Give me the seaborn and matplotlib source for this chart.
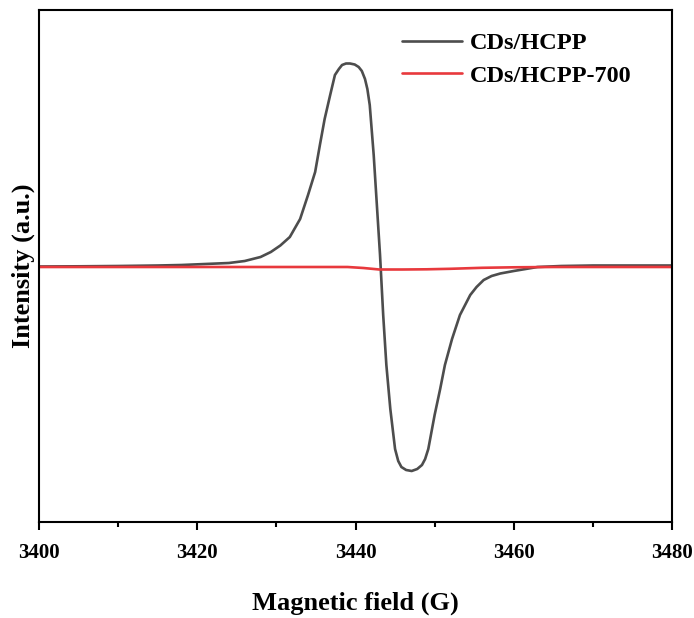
import numpy as np
import pandas as pd
import matplotlib
matplotlib.use("Agg")
import matplotlib.pyplot as plt
import seaborn as sns

# --- data ---
field_hcpp = [3400, 3405, 3410, 3415, 3418, 3421, 3424, 3426, 3428, 3429.3, 3430.5,
              3431.7, 3433.0, 3434.0, 3434.9, 3435.5, 3436.1, 3436.8, 3437.4, 3437.9,
              3438.3, 3438.8, 3439.3, 3439.9, 3440.4, 3440.8, 3441.2, 3441.5, 3441.8,
              3442.3, 3442.7, 3443.1, 3443.5, 3443.9, 3444.4, 3445.0, 3445.4, 3445.8,
              3446.4, 3447.1, 3447.8, 3448.4, 3448.8, 3449.2, 3450.0, 3450.7, 3451.3,
              3452.2, 3453.2, 3454.5, 3455.3, 3456.2, 3457.2, 3458.3, 3460.0, 3461.5,
              3463.0, 3466.0, 3470.0, 3475.0, 3480.0]
int_hcpp = [0.5, 0.7, 1.0, 1.5, 2.0, 3.0, 4.0, 6.0, 10.0, 15.0, 21.5,
            30.0, 48.0, 72.0, 95.0, 122.0, 148.0, 172.0, 192.0, 198.0,
            202.0, 203.5, 203.5, 202.5, 200.0, 196.0, 188.0, 178.0, 162.0,
            112.0, 62.0, 12.0, -48.0, -98.0, -142.0, -182.0, -194.0, -200.0,
            -203.0, -204.0, -202.0, -198.0, -192.0, -182.0, -148.0, -122.0, -98.0,
            -72.0, -48.0, -28.0, -20.0, -13.0, -9.0, -6.5, -4.0, -2.0,
            0.0, 1.0, 1.5, 1.5, 1.5]

field_700 = [3400, 3420, 3435, 3439, 3441, 3443, 3446, 3449, 3452, 3456, 3460, 3465, 3470, 3480]
int_700 = [0.0, 0.0, 0.0, 0.0, -1.0, -2.5, -2.5, -2.3, -1.8, -0.8, -0.3, 0.0, 0.0, 0.0]

labels = ["CDs/HCPP", "CDs/HCPP-700"]
colors = ["#4d4d4d", "#e8393d"]
x_ticks = [3400, 3420, 3440, 3460, 3480]

sns.set_theme(style="white")
plt.rcParams['font.family'] = ['Liberation Serif', 'DejaVu Serif']
plt.rcParams['font.weight'] = 'bold'
plt.rcParams['text.color'] = 'black'
plt.rcParams['axes.labelcolor'] = 'black'
plt.rcParams['xtick.color'] = 'black'
plt.rcParams['ytick.color'] = 'black'

fig = plt.figure(figsize=(6.94, 6.18), dpi=100)
ax = fig.add_axes([39/694, 1-522/618, (672-39)/694, (522-10)/618])

df1 = pd.DataFrame({"x": field_hcpp, "y": int_hcpp})
df2 = pd.DataFrame({"x": field_700, "y": int_700})
sns.lineplot(data=df1, x="x", y="y", ax=ax, color=colors[0], lw=1.9, label=labels[0],
             solid_joinstyle='round')
sns.lineplot(data=df2, x="x", y="y", ax=ax, color=colors[1], lw=1.9, label=labels[1],
             solid_joinstyle='round')

ax.set_xlim(3400, 3480)
ax.set_ylim(-255, 257)
ax.set_xticks(x_ticks)
ax.set_xticks([3410, 3430, 3450, 3470], minor=True)
ax.set_yticks([])
ax.tick_params(axis='x', which='major', direction='out', length=6, width=1.5,
               labelsize=15, pad=9, bottom=True, color='black', labelcolor='black')
ax.tick_params(axis='x', which='minor', direction='out', length=3.5, width=1.5,
               bottom=True, color='black')
for lab in ax.get_xticklabels():
    lab.set_fontweight('bold')
for sp in ax.spines.values():
    sp.set_visible(True)
    sp.set_color('black')
    sp.set_linewidth(1.5)

ax.set_xlabel("Magnetic field (G)", fontsize=19, fontweight='bold', labelpad=21, color='black')
ax.set_ylabel("Intensity (a.u.)", fontsize=19, fontweight='bold', labelpad=3, color='black')

leg = ax.legend(loc='upper left', bbox_to_anchor=((402-39)/633, 1-(32-10)/512),
                frameon=False, handlelength=2.45, handletextpad=0.35,
                labelspacing=0.45, borderpad=0, borderaxespad=0,
                prop={'weight': 'bold', 'size': 17.5})
for t in leg.get_texts():
    t.set_color('black')

fig.savefig("out.png", dpi=100)
